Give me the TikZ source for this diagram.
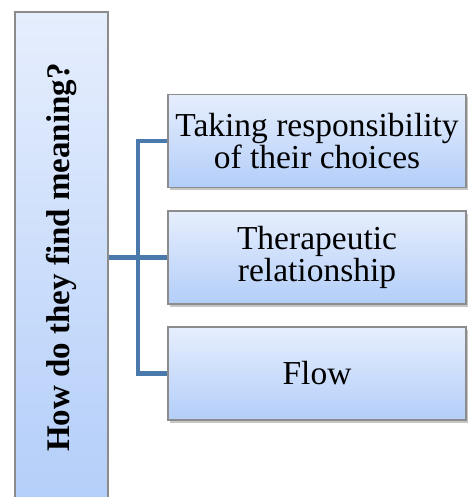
\documentclass[tikz,border=0pt]{standalone}
\usepackage{fontspec}
\setmainfont{Liberation Serif}
\usepackage{tikz}
\usetikzlibrary{shadows}
\definecolor{boxtop}{HTML}{E6EEFD}
\definecolor{boxbot}{HTML}{B3CEF9}
\definecolor{boxline}{HTML}{8C8C8C}
\definecolor{linkblue}{HTML}{4A7AAB}

\begin{document}
\begin{tikzpicture}[x=1pt, y=-1pt,
    qbox/.style={draw=boxline, line width=1.1pt, top color=boxtop, bottom color=boxbot,
        rotate=90, minimum width=491pt, minimum height=93pt, inner sep=0pt,
        font=\fontsize{33}{36}\selectfont\bfseries},
    abox/.style={draw=boxline, line width=1.1pt, top color=boxtop, bottom color=boxbot,
        minimum width=298pt, minimum height=93pt, inner sep=2pt, align=center,
        drop shadow={shadow xshift=2pt, shadow yshift=-2.5pt, opacity=0.45},
        font=\fontsize{33.5}{28.5}\selectfont},
    link/.style={draw=linkblue, line width=4.5pt}]
            \useasboundingbox (0,0) rectangle (467,497);

            % question
            \node[qbox] (mq) at (61.5,257.5) {How do they find meaning?};

            % answers
            \node[abox] (m1) at (317,141) {Taking responsibility\\of their choices};
            \node[abox] (m2) at (317,257.5) {Therapeutic\\relationship};
            \node[abox] (m3) at (317,373.5) {Flow};

            % connectors
            \coordinate (fork) at (138,257.5);
            \draw[link] (mq.south) -- (m2.west);
            \draw[link] (m1.west) -| (fork) |- (m3.west);
\end{tikzpicture}
\end{document}
